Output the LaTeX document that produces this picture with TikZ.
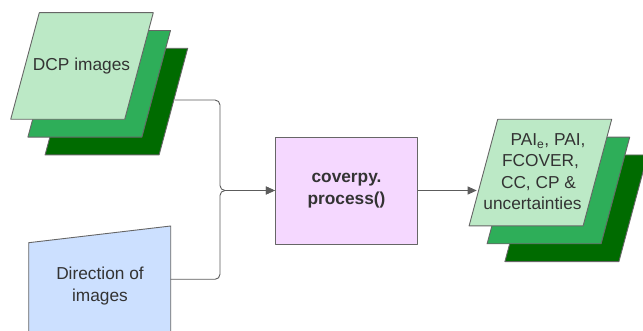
\documentclass[tikz,border=0pt]{standalone}
\usepackage{fontspec}
\setmainfont{Liberation Sans}
\usetikzlibrary{arrows.meta}
\definecolor{lgreen}{HTML}{BCE9C6}
\definecolor{mgreen}{HTML}{2EAE59}
\definecolor{dgreen}{HTML}{006B00}
\definecolor{lblue}{HTML}{CCE0FF}
\definecolor{lpurple}{HTML}{F5D8FF}
\definecolor{edge}{HTML}{666666}
\definecolor{txt}{HTML}{333333}
\tikzset{
  shapeedge/.style={draw=edge, line width=0.9pt, line join=round},
  conn/.style={draw=edge!90!black, line width=0.9pt, rounded corners=5pt},
  arr/.style={-{Triangle[length=9pt,width=8pt]}},
  lbl/.style={text=txt, align=center, inner sep=0pt, font=\fontsize{17.3}{21.5}\selectfont},
}
\newcommand{\parlgram}[4]{% x y fill name
  \path[shapeedge, fill=#3] (#1,#2) -- ++(114,0) -- ++(-28.6,106.6) -- ++(-114,0) -- cycle;
  \coordinate (#4) at (#1,#2);
}
\begin{document}
\begin{tikzpicture}[x=1pt,y=-1pt]
\useasboundingbox (0,0) rectangle (643,331);
\clip (0,0) rectangle (643,331);
% DCP stack
\parlgram{73.7}{48.3}{dgreen}{dcpback}
\parlgram{56.5}{30.5}{mgreen}{dcpmid}
\parlgram{39.3}{12.7}{lgreen}{dcpfront}
\node[lbl] (dcp) at (81.5,66) {DCP images};
\coordinate (dcpout) at (174.6,100);
% Direction trapezoid
\path[shapeedge, fill=lblue] (28.7,242.7) -- (170.7,226) -- (170.7,345) -- (28.7,345) -- cycle;
\node[lbl] (dir) at (100,286) {Direction of\\images};
\coordinate (dirout) at (170.7,279.3);
% coverpy box
\node[shapeedge, fill=lpurple, minimum width=142.4pt, minimum height=107pt, inner sep=0pt,
      lbl, font=\fontsize{17.3}{21.5}\selectfont\bfseries] (cov) at (346.5,190.5) {coverpy.\\process()};
% output stack
\parlgram{533.5}{155}{dgreen}{outback}
\parlgram{515.7}{137.2}{mgreen}{outmid}
\parlgram{497.7}{119.3}{lgreen}{outfront}
\node[lbl, anchor=base] (out1) at (548,146) {PAI\textsubscript{e}, PAI,};
\node[lbl, anchor=base] (out2) at (540.5,167) {FCOVER,};
\node[lbl, anchor=base] (out3) at (538.5,188.5) {CC, CP \&};
\node[lbl, anchor=base] (out4) at (532.5,209.5) {uncertainties};
\coordinate (outin) at (476.7,190.5);
% connectors
\draw[conn, arr] (dcpout) -| (220,190.5) -- (cov.west);
\draw[conn, arr] (dirout) -| (220,190.5) -- (cov.west);
\draw[conn, arr] (cov.east) -- (outin);
\end{tikzpicture}
\end{document}
